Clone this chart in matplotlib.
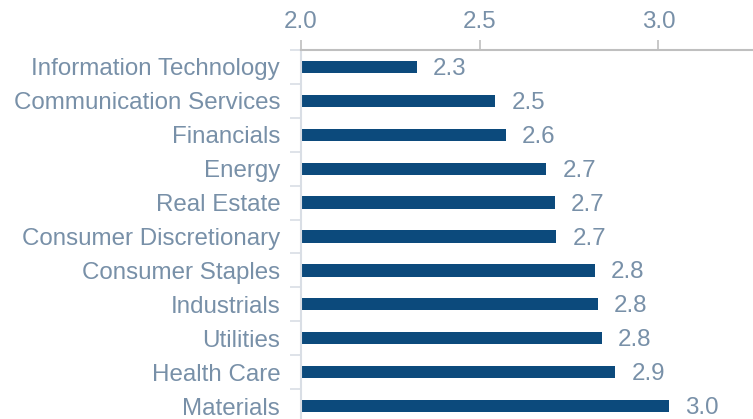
import matplotlib
matplotlib.use("Agg")
import matplotlib.pyplot as plt
import numpy as np

categories = ["Information Technology", "Communication Services", "Financials", "Energy",
              "Real Estate", "Consumer Discretionary", "Consumer Staples", "Industrials",
              "Utilities", "Health Care", "Materials"]
values = [2.325, 2.544, 2.573, 2.687, 2.710, 2.715, 2.822, 2.831, 2.842, 2.880, 3.030]
xticks = [2.0, 2.5, 3.0]
xtick_labels = ["2.0", "2.5", "3.0"]

plt.rcParams['font.family'] = ['Liberation Sans', 'DejaVu Sans']
text_color = "#7890A8"
bar_color = "#0C4A7C"

W, H = 753, 419
fig = plt.figure(figsize=(W / 100, H / 100), dpi=100)
left_px, right_px, top_px, bottom_px = 301, 837, 50, 423
ax = fig.add_axes([left_px / W, (H - bottom_px) / H,
                   (right_px - left_px) / W, (bottom_px - top_px) / H])

y = np.arange(len(categories))
ax.barh(y, [v - 2.0 for v in values], left=2.0, height=0.36, color=bar_color)
for yi, v in zip(y, values):
    ax.annotate(f"{v:.1f}", xy=(v, yi), xytext=(11.5, -1.5), textcoords="offset points",
                va="center", ha="left", fontsize=17.4, color=text_color)

ax.set_xlim(2.0, 3.5)
ax.set_ylim(len(categories) - 0.5, -0.5)
ax.xaxis.tick_top()
ax.set_xticks(xticks)
ax.set_xticklabels(xtick_labels)
ax.set_yticks(y)
ax.set_yticklabels(categories)
ax.set_yticks(np.arange(-0.5, len(categories) + 0.5, 1), minor=True)

ax.tick_params(axis="x", which="major", length=7, width=1.2, color="#BFBFBF",
               pad=5.5, labelsize=17.4, labelcolor=text_color, top=True, bottom=False)
ax.tick_params(axis="y", which="major", length=0, pad=15, labelsize=17.4,
               labelcolor=text_color)
ax.tick_params(axis="y", which="minor", length=8, width=1.2, color="#D9DEE5", left=True)

for s in ["right", "bottom"]:
    ax.spines[s].set_visible(False)
ax.spines["top"].set_color("#BFBFBF")
ax.spines["top"].set_linewidth(1.5)
ax.spines["left"].set_color("#D9DEE5")
ax.spines["left"].set_linewidth(1.5)

fig.savefig("out.png", dpi=100)
